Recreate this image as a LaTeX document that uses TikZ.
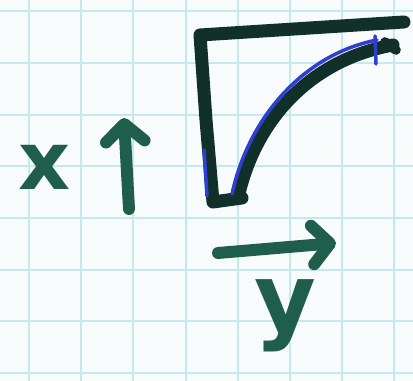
\documentclass[tikz,border=0pt]{standalone}
\usepackage{fontspec}
\usepackage{tikz}
\usetikzlibrary{arrows.meta}
\newfontfamily\sketchfont{DejaVu Sans Bold}
\definecolor{paper}{HTML}{F8FBFB}
\definecolor{gridblue}{HTML}{C4E8F0}
\definecolor{inkdark}{HTML}{11302A}
\definecolor{inkgreen}{HTML}{1F5E4B}
\definecolor{inkblue}{HTML}{2F3FD0}

\begin{document}
\begin{tikzpicture}[x=0.02cm, y=-0.02cm, line cap=round, line join=round,
		gridline/.style={gridblue, line width=0.8pt},
		outline/.style={inkdark, line width=7.4pt},
		marker/.style={inkblue, line width=2pt},
		axis/.style={inkgreen, line width=6.8pt, -{Straight Barb[length=10pt, width=22pt, round]}},
		lbl/.style={inkgreen, font=\sketchfont\fontsize{46}{46}\selectfont, inner sep=0pt}]
		% Paper and grid
		\fill[paper] (0,0) rectangle (413,381);
		\useasboundingbox (0,0) rectangle (413,381);
		\foreach \gx in {29,81,133,186,238,290,342,394}
			\draw[gridline] (\gx,0) -- (\gx,381);
		\foreach \gy in {11,63,115,166,218,270,321,373}
			\draw[gridline] (0,\gy) -- (413,\gy);

		% Triangle with curved side
		\draw[outline] (404,22) -- (200,35) -- (206,120) -- (213,202) -- (242,198);
		\draw[outline] (238,198) .. controls (255,120) and (310,60) .. (393,45);
		\draw[outline, line width=5.5pt] (385,42) -- (396,50);
		\draw[marker] (232,194) .. controls (249,116) and (305,54) .. (377,40);
		\draw[marker] (204,150) -- (207,196);
		\draw[marker] (375,36) -- (376,64);

		% Labels
		\node[lbl, anchor=base] (xlab) at (45,190) {x};
		\node[lbl, anchor=base, font=\sketchfont\fontsize{54}{54}\selectfont] (ylab) at (285,332) {y};

		% Direction arrows
		\coordinate (upfoot) at (129,209);
		\coordinate (uptip) at (124,118);
		\coordinate (rightfoot) at (218,253);
		\coordinate (righttip) at (336,243);
		\draw[axis] (upfoot) -- (uptip);
		\draw[axis] (rightfoot) -- (righttip);
	\end{tikzpicture}
\end{document}
